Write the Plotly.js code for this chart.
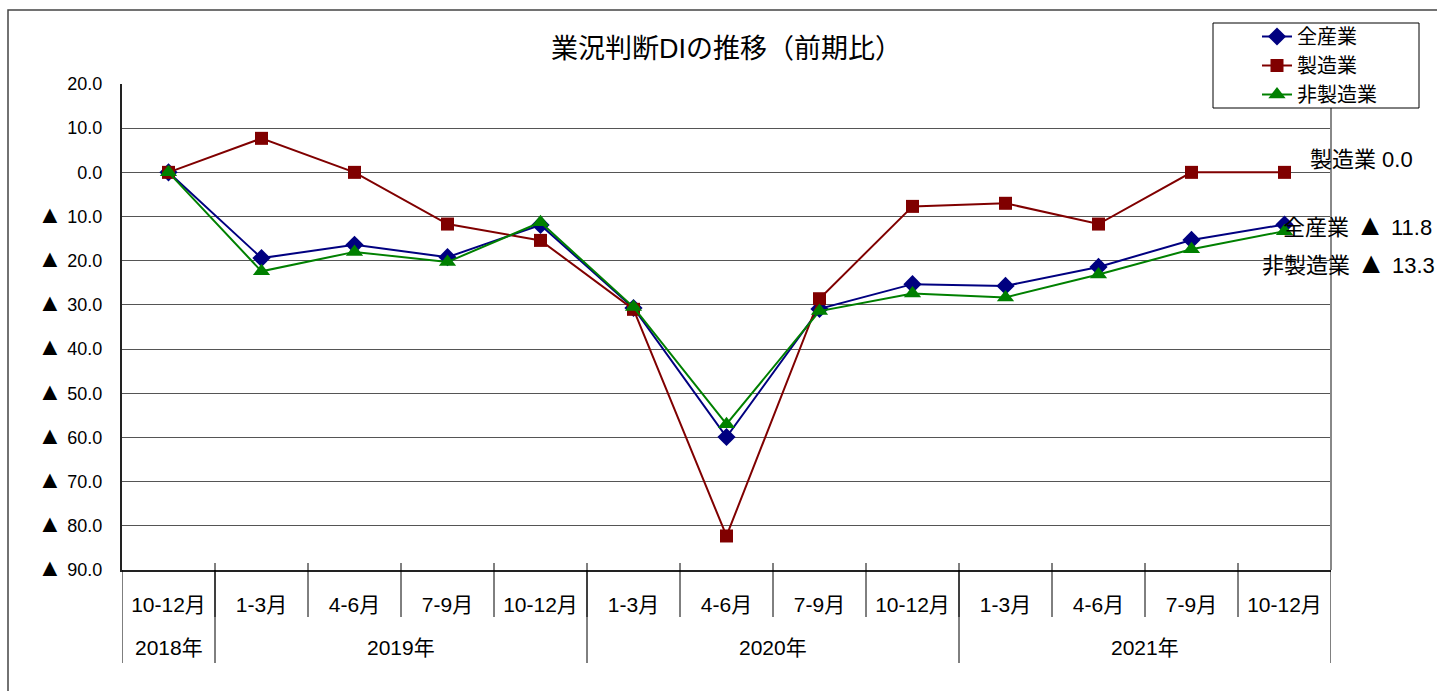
<!DOCTYPE html>
<html>
<head>
<meta charset="utf-8">
<script src="https://cdn.plot.ly/plotly-3.0.1.min.js"></script>
<style>html,body{margin:0;padding:0;background:#fff;}</style>
</head>
<body>
<div id="chart" style="width:1437px;height:691px;"></div>
<script>
// ---- data ----
const periods = ['10-12月','1-3月','4-6月','7-9月','10-12月','1-3月','4-6月','7-9月','10-12月','1-3月','4-6月','7-9月','10-12月'];
const years = ['2018年','2019年','2020年','2021年'];
const yearSpans = [1, 4, 4, 4];
const allIndustry = [0.0, -19.4, -16.4, -19.2, -11.9, -30.7, -59.9, -30.9, -25.3, -25.7, -21.4, -15.3, -11.8];
const manufacturing = [0.0, 7.7, 0.0, -11.7, -15.4, -31.0, -82.3, -28.6, -7.7, -7.0, -11.7, 0.0, 0.0];
const nonManufacturing = [0.0, -22.4, -18.0, -20.3, -11.3, -30.5, -57.0, -31.4, -27.4, -28.3, -23.1, -17.4, -13.3];
const yTickVals = [20, 10, 0, -10, -20, -30, -40, -50, -60, -70, -80, -90];
const yTickText = ['20.0','10.0','0.0','▲ 10.0','▲ 20.0','▲ 30.0','▲ 40.0','▲ 50.0','▲ 60.0','▲ 70.0','▲ 80.0','▲ 90.0'];
const seriesNames = ['全産業','製造業','非製造業'];
const endLabels = ['全産業 ▲ 11.8','製造業 0.0','非製造業 ▲ 13.3'];

const FONT = '"Liberation Sans", Arial, "Noto Sans CJK JP", sans-serif';
const idx = periods.map((_, i) => i);
// enlarge the triangle glyph (display styling only)
const bigTri = (s, sz) => s.replace('▲', '<span style="font-size:' + sz + 'px">▲</span>');

// plot area pixel geometry
const W = 1437, H = 691, L = 122, R = 1331, T = 84, B = 570;
const px = x => (x - L) / (R - L);
const py = y => (B - y) / (B - T);

const traces = [
  {x: idx, y: allIndustry, name: seriesNames[0], type: 'scatter', mode: 'lines+markers',
   line: {color: '#000080', width: 2}, marker: {symbol: 'diamond', size: 14, color: '#000080'}},
  {x: idx, y: manufacturing, name: seriesNames[1], type: 'scatter', mode: 'lines+markers',
   line: {color: '#800000', width: 2}, marker: {symbol: 'square', size: 13, color: '#800000'}},
  {x: idx, y: nonManufacturing, name: seriesNames[2], type: 'scatter', mode: 'lines+markers',
   line: {color: '#008000', width: 2}, marker: {symbol: 'triangle-up', size: 15, color: '#008000'}}
];

const shapes = [];
// outer frame
shapes.push({type: 'rect', xref: 'paper', yref: 'paper', x0: px(8), x1: px(1450), y0: py(700), y1: py(10),
  line: {color: '#444', width: 1.5}, fillcolor: 'rgba(0,0,0,0)', layer: 'below'});
// right border of plot
shapes.push({type: 'line', xref: 'paper', yref: 'paper', x0: 1, x1: 1, y0: 0, y1: 1, line: {color: '#888', width: 2}});
// legend box
shapes.push({type: 'rect', xref: 'paper', yref: 'paper', x0: px(1213), x1: px(1419), y0: py(108), y1: py(23),
  line: {color: '#000', width: 1}, fillcolor: '#fff', layer: 'above'});
// category separators
for (let i = 0; i < periods.length - 1; i++) {
  shapes.push({type: 'line', xref: 'x', yref: 'paper', x0: i + 0.5, x1: i + 0.5, y0: py(563), y1: py(617),
    line: {color: '#000', width: 1}});
}
// year separators (outer row)
let acc = -0.5;
const yearBounds = [acc];
yearSpans.forEach(s => { acc += s; yearBounds.push(acc); });
yearBounds.forEach(b => {
  shapes.push({type: 'line', xref: 'x', yref: 'paper', x0: b, x1: b, y0: py(570), y1: py(663),
    line: {color: '#000', width: 1}});
});

const annotations = [];
years.forEach((yr, k) => {
  annotations.push({xref: 'x', yref: 'paper', x: (yearBounds[k] + yearBounds[k + 1]) / 2, y: py(647),
    text: yr, showarrow: false, xanchor: 'center', yanchor: 'middle', font: {family: FONT, size: 21, color: '#000'}});
});
// end labels
annotations.push({xref: 'paper', yref: 'paper', x: px(1415), y: py(160), text: endLabels[1], showarrow: false,
  xanchor: 'right', yanchor: 'middle', font: {family: FONT, size: 22, color: '#000'}});
annotations.push({xref: 'paper', yref: 'paper', x: px(1434), y: py(224), text: bigTri(endLabels[0], 30), showarrow: false,
  xanchor: 'right', yanchor: 'middle', font: {family: FONT, size: 22, color: '#000'}});
annotations.push({xref: 'paper', yref: 'paper', x: px(1437), y: py(262), text: bigTri(endLabels[2], 30), showarrow: false,
  xanchor: 'right', yanchor: 'middle', font: {family: FONT, size: 22, color: '#000'}});

const layout = {
  width: W, height: H, autosize: false,
  margin: {l: L, r: W - R, t: T, b: H - B, pad: 0},
  paper_bgcolor: '#fff', plot_bgcolor: '#fff',
  font: {family: FONT, color: '#000', size: 17},
  title: {text: '業況判断DIの推移（前期比）', x: 0.5, xref: 'paper', xanchor: 'center', y: 1 - 49 / H, yanchor: 'middle',
    font: {family: FONT, size: 27, color: '#000'}},
  xaxis: {range: [-0.5, 12.5], tickmode: 'array', tickvals: idx, ticktext: periods,
    showgrid: false, zeroline: false, showline: true, linecolor: '#222', linewidth: 2,
    ticks: 'outside', ticklen: 15, tickcolor: 'rgba(0,0,0,0)', tickfont: {family: FONT, size: 21, color: '#000'},
    fixedrange: true},
  yaxis: {range: [-90, 20], tickmode: 'array', tickvals: yTickVals, ticktext: yTickText.map(t => bigTri(t, 25)),
    showgrid: true, gridcolor: '#555', gridwidth: 1, zeroline: false,
    showline: true, linecolor: '#222', linewidth: 2,
    ticks: 'outside', ticklen: 14, tickcolor: 'rgba(0,0,0,0)', tickfont: {family: FONT, size: 18, color: '#000'},
    fixedrange: true},
  legend: {x: px(1257), y: py(17), xanchor: 'left', yanchor: 'top', bgcolor: 'rgba(0,0,0,0)',
    borderwidth: 0, font: {family: FONT, size: 20, color: '#000'},
    tracegroupgap: 0, itemwidth: 30},
  showlegend: true,
  shapes: shapes,
  annotations: annotations
};

Plotly.newPlot('chart', traces, layout, {displayModeBar: false, staticPlot: true});
</script>
</body>
</html>
